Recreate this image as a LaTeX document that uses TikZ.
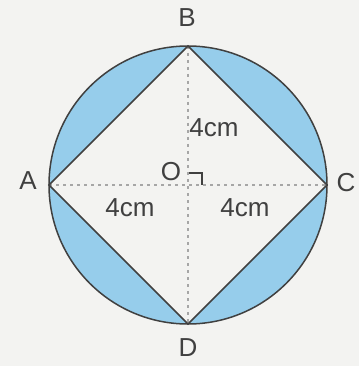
\documentclass[tikz,border=0pt]{standalone}
\usepackage{fontspec}
\setmainfont{Liberation Sans}
\usetikzlibrary{calc}
\begin{document}
\begin{tikzpicture}[x=1pt,y=-1pt,
  edge/.style={draw=black!75,line width=1.5pt},
  diam/.style={draw=black!35,line width=1.7pt,dash pattern=on 3pt off 4pt},
  lbl/.style={font=\fontsize{26}{30}\selectfont,text=black!75,inner sep=0pt}]
\definecolor{segblue}{RGB}{150,205,235}
\definecolor{bg}{RGB}{243,243,241}
\fill[bg] (0,0) rectangle (359,366);
\useasboundingbox (0,0) rectangle (359,366);
\coordinate (O) at (188,185);
\coordinate (A) at (49,185);
\coordinate (C) at (327,185);
\coordinate (B) at (188,46);
\coordinate (D) at (188,324);
\fill[segblue,even odd rule] (O) circle[radius=139] (A) -- (B) -- (C) -- (D) -- cycle;
\draw[diam] (A) -- (C);
\draw[diam] (B) -- (D);
\draw[edge] (O) circle[radius=139];
\draw[edge] (A) -- (B) -- (C) -- (D) -- cycle;
\draw[black!75,line width=1.4pt] ($(O)+(1,-12)$) -- ($(O)+(14,-12)$) -- ($(O)+(14,0)$);
\node[lbl] (lB) at (187,18) {B};
\node[lbl] (lD) at (188,348) {D};
\node[lbl] (lA) at (28,181) {A};
\node[lbl] (lC) at (346,183) {C};
\node[lbl] (lO) at (171,172) {O};
\node[lbl] (l1) at (214,128) {4cm};
\node[lbl] (l2) at (130,208) {4cm};
\node[lbl] (l3) at (245,208) {4cm};
\end{tikzpicture}
\end{document}
